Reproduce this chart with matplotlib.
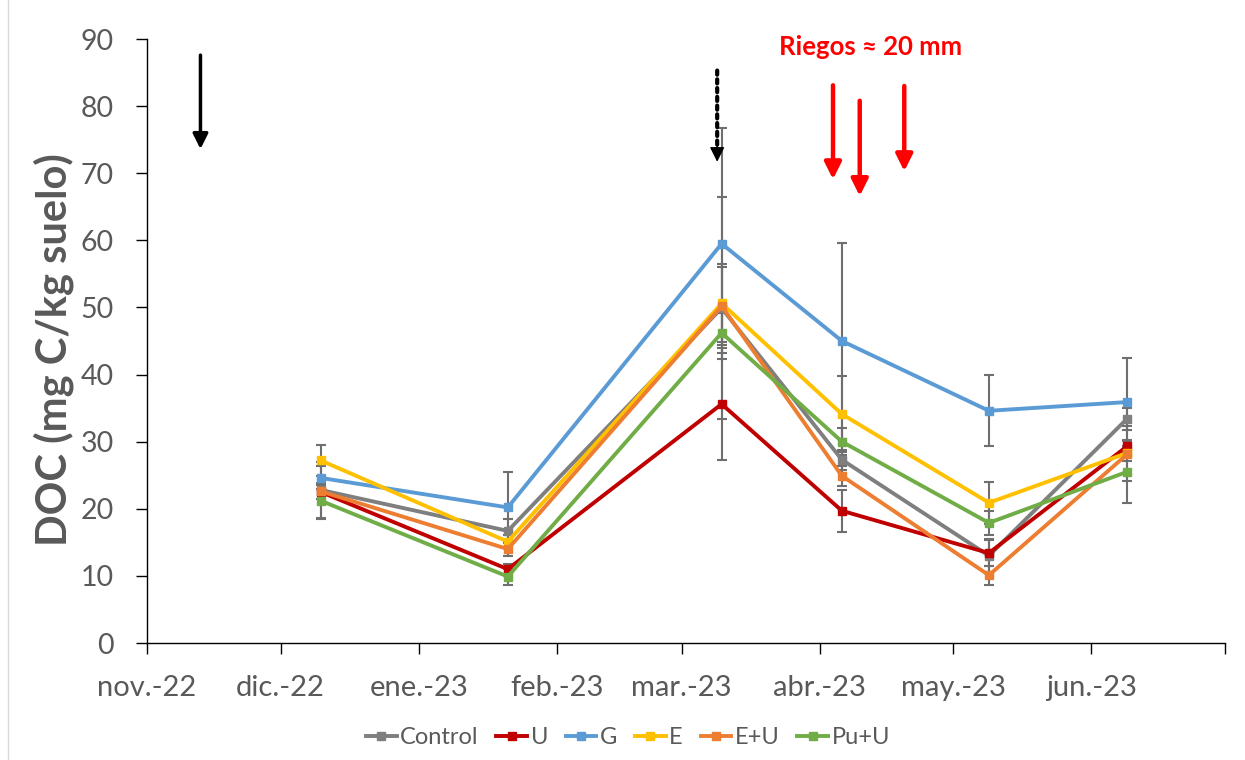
import numpy as np
import matplotlib
matplotlib.use("Agg")
import matplotlib.pyplot as plt
import matplotlib.dates as mdates

# ---------------- data ----------------
dates = np.array(["2022-12-10", "2023-01-21", "2023-03-10",
                  "2023-04-06", "2023-05-09", "2023-06-09"], dtype="datetime64[D]")

series_names = ["Control", "U", "G", "E", "E+U", "Pu+U"]
control = [22.8, 16.7, 49.9, 27.3, 13.0, 33.4]
u_vals  = [22.5, 11.0, 35.6, 19.7, 13.4, 29.3]
g_vals  = [24.6, 20.2, 59.5, 45.0, 34.6, 35.9]
e_vals  = [27.2, 15.1, 50.6, 34.1, 20.9, 28.3]
eu_vals = [22.6, 14.0, 50.2, 24.9, 10.1, 28.1]
puu_vals = [21.2, 9.9, 46.2, 30.0, 17.9, 25.5]

control_err = [4.1, 1.8, 16.5, 1.5, 2.5, 1.6]
u_err   = [1.0, 0.8, 8.3, 3.1, 2.0, 1.0]
g_err   = [1.7, 5.3, 17.2, 14.6, 5.3, 6.6]
e_err   = [2.3, 1.0, 5.8, 5.7, 3.1, 4.1]
eu_err  = [1.2, 1.0, 5.8, 1.5, 1.4, 1.0]
puu_err = [2.7, 1.2, 3.0, 2.0, 1.8, 4.6]

month_ticks = np.array(["2022-11-01", "2022-12-01", "2023-01-01", "2023-02-01",
                        "2023-03-01", "2023-04-01", "2023-05-01", "2023-06-01",
                        "2023-07-01"], dtype="datetime64[D]")
month_labels = ["nov.-22", "dic.-22", "ene.-23", "feb.-23", "mar.-23",
                "abr.-23", "may.-23", "jun.-23", ""]
y_ticks = list(range(0, 100, 10))

colors = ["#7F7F7F", "#C00000", "#5B9BD5", "#FFC000", "#ED7D31", "#70AD47"]

# annotation arrows (date, y_top, y_tip)
black_arrow = ("2022-11-13", 87.6, 73.6)
dotted_arrow = ("2023-03-09", 85.3, 71.7)
riego_arrows = [("2023-04-04", 83.1, 69.1),
                ("2023-04-10", 80.8, 66.6),
                ("2023-04-20", 83.0, 70.3)]

# ---------------- plot ----------------
FONT = ["Lato", "DejaVu Sans"]
plt.rcParams["font.family"] = FONT
GRAY_TXT = "#595959"

fig = plt.figure(figsize=(12.45, 7.6), dpi=100)
ax = fig.add_axes([147/1245, 1-643/760, (1225-147)/1245, (643-39)/760])

vals = [control, u_vals, g_vals, e_vals, eu_vals, puu_vals]
errs = [control_err, u_err, g_err, e_err, eu_err, puu_err]
xd = dates.astype("datetime64[D]").astype(object)

for name, v, er, c in zip(series_names, vals, errs, colors):
    ax.errorbar(xd, v, yerr=er, fmt="none", ecolor="#6f6f6f", elinewidth=1.5,
                capsize=3.6, capthick=1.5, zorder=2)
for name, v, c in zip(series_names, vals, colors):
    ax.plot(xd, v, color=c, lw=2.8, marker="s", markersize=6, label=name, zorder=3)

ax.set_xlim(month_ticks[0].astype(object), month_ticks[-1].astype(object))
ax.set_ylim(0, 90)
ax.set_xticks([d.astype(object) for d in month_ticks])
ax.set_xticklabels(month_labels)
ax.set_yticks(y_ticks)
ax.set_yticklabels([str(t) for t in y_ticks])

for s in ["top", "right"]:
    ax.spines[s].set_visible(False)
for s in ["left", "bottom"]:
    ax.spines[s].set_color("black")
    ax.spines[s].set_linewidth(1.0)

ax.tick_params(axis="x", direction="out", length=8, width=1, colors="black",
               labelcolor=GRAY_TXT, labelsize=21, pad=15)
ax.tick_params(axis="y", direction="out", length=8, width=1, colors="black",
               labelcolor=GRAY_TXT, labelsize=20.5, pad=16)

fig.text(54/1245, 1-350/760, "DOC (mg C/kg suelo)", rotation=90, ha="center",
         va="center", fontsize=30, fontweight="bold", color=GRAY_TXT)

def d2n(s):
    return mdates.date2num(np.datetime64(s).astype(object))

# black arrow
x0, yt, yb = black_arrow
ax.annotate("", xy=(d2n(x0), yb), xytext=(d2n(x0), yt),
            arrowprops=dict(arrowstyle="-|>,head_length=0.9,head_width=0.45",
                            lw=2.5, color="black", shrinkA=0, shrinkB=0))
# dotted arrow
x0, yt, yb = dotted_arrow
ax.annotate("", xy=(d2n(x0), yb + 1.5), xytext=(d2n(x0), yt),
            arrowprops=dict(arrowstyle="-", lw=3, color="black",
                            linestyle=(0, (1.0, 1.1)), shrinkA=0, shrinkB=0))
ax.annotate("", xy=(d2n(x0), yb), xytext=(d2n(x0), yb + 3),
            arrowprops=dict(arrowstyle="-|>,head_length=0.9,head_width=0.45",
                            lw=1, color="black", shrinkA=0, shrinkB=0))
# red arrows
for x0, yt, yb in riego_arrows:
    ax.annotate("", xy=(d2n(x0), yb), xytext=(d2n(x0), yt),
                arrowprops=dict(arrowstyle="-|>,head_length=1.0,head_width=0.5",
                                lw=3.2, color="#FF0000", shrinkA=0, shrinkB=0))

fig.text(871/1245, 1-47/760, "Riegos ≈ 20 mm", ha="center", va="center",
         fontsize=18.5, fontweight="bold", color="#FF0000", family=FONT)

leg = fig.legend(loc="center", bbox_to_anchor=(628/1245, 1-738/760), ncol=6,
                 frameon=False, fontsize=17, handlelength=1.3, handletextpad=0.15,
                 columnspacing=0.75, borderpad=0)
for t in leg.get_texts():
    t.set_color(GRAY_TXT)

# chart-area border (left edge visible)
fig.add_artist(plt.Line2D([8/1245, 8/1245], [0, 1], color="#d9d9d9", lw=1,
                          transform=fig.transFigure))

fig.savefig("out.png", dpi=100)
